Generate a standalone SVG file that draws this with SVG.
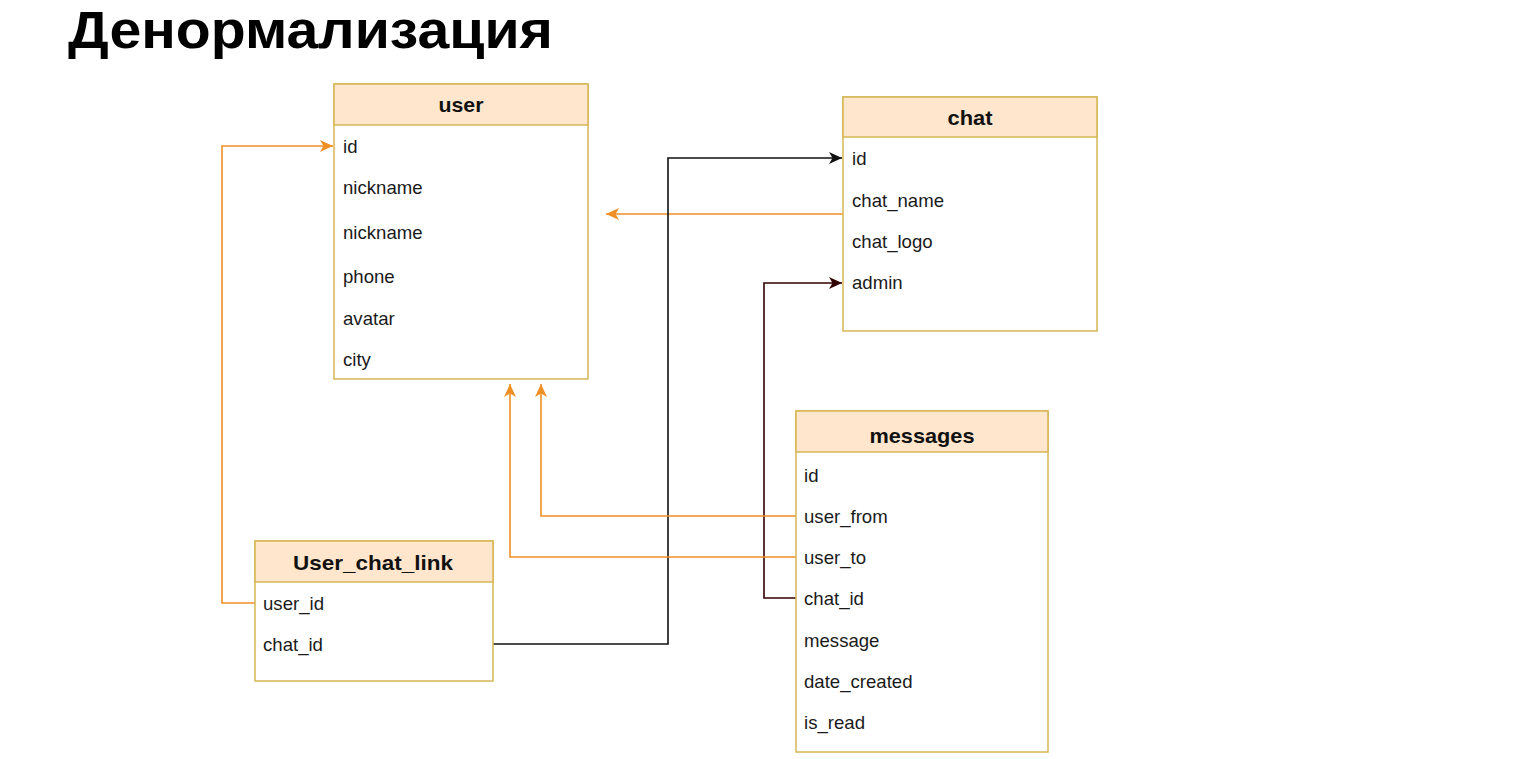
<svg xmlns="http://www.w3.org/2000/svg" width="1536" height="759" viewBox="0 0 1536 759">
<style>
.box{fill:#ffffff;stroke:#d6b656;stroke-width:1.5}
.hdr{fill:#ffe6cc;stroke:#d6b656;stroke-width:1.5}
.ht{font-family:"Liberation Sans",Arial,sans-serif;font-weight:bold;font-size:20.5px;fill:#111;text-anchor:middle}
.ft{font-family:"Liberation Sans",Arial,sans-serif;font-size:18.6px;fill:#1a1a1a}
.or{fill:none;stroke:#ef8f25;stroke-width:1.6}
.bk{fill:none;stroke:#111;stroke-width:1.6}
.br{fill:none;stroke:#330000;stroke-width:1.6}
</style>
<defs>
<marker id="aO" markerUnits="userSpaceOnUse" markerWidth="14" markerHeight="12" viewBox="0 0 14 12" refX="13" refY="6" orient="auto"><path d="M0,0 L13,6 L0,12 L3.5,6 z" fill="#ef8f25"/></marker>
<marker id="aK" markerUnits="userSpaceOnUse" markerWidth="14" markerHeight="12" viewBox="0 0 14 12" refX="13" refY="6" orient="auto"><path d="M0,0 L13,6 L0,12 L3.5,6 z" fill="#111"/></marker>
<marker id="aB" markerUnits="userSpaceOnUse" markerWidth="14" markerHeight="12" viewBox="0 0 14 12" refX="13" refY="6" orient="auto"><path d="M0,0 L13,6 L0,12 L3.5,6 z" fill="#330000"/></marker>
</defs>
<rect width="1536" height="759" fill="#ffffff"/>
<text x="68" y="48" font-family="'Liberation Sans',Arial,sans-serif" font-weight="bold" font-size="51" textLength="485" lengthAdjust="spacingAndGlyphs" fill="#000">Денормализация</text>

<g id="connectors">
<path class="or" d="M255,603 H222 V146 H333" marker-end="url(#aO)"/>
<path class="or" d="M843,214 H606" marker-end="url(#aO)"/>
<path class="bk" d="M493,644 H668 V158 H842" marker-end="url(#aK)"/>
<path class="br" d="M796,598 H764 V283 H842" marker-end="url(#aB)"/>
<path class="or" d="M796,516 H541 V384" marker-end="url(#aO)"/>
<path class="or" d="M796,557 H510 V384" marker-end="url(#aO)"/>
</g>

<g id="user">
<rect class="box" x="334" y="84" width="254" height="295"/>
<rect class="hdr" x="334" y="84" width="254" height="41"/>
<text class="ht" x="461" y="112" textLength="45" lengthAdjust="spacingAndGlyphs">user</text>
<text class="ft" x="343" y="153">id</text>
<text class="ft" x="343" y="194">nickname</text>
<text class="ft" x="343" y="239">nickname</text>
<text class="ft" x="343" y="283">phone</text>
<text class="ft" x="343" y="325">avatar</text>
<text class="ft" x="343" y="366">city</text>
</g>

<g id="chat">
<rect class="box" x="843" y="97" width="254" height="234"/>
<rect class="hdr" x="843" y="97" width="254" height="40"/>
<text class="ht" x="970" y="125" textLength="45" lengthAdjust="spacingAndGlyphs">chat</text>
<text class="ft" x="852" y="165">id</text>
<text class="ft" x="852" y="207">chat_name</text>
<text class="ft" x="852" y="248">chat_logo</text>
<text class="ft" x="852" y="289">admin</text>
</g>

<g id="messages">
<rect class="box" x="796" y="411" width="252" height="341"/>
<rect class="hdr" x="796" y="411" width="252" height="41"/>
<text class="ht" x="922" y="443" textLength="105" lengthAdjust="spacingAndGlyphs">messages</text>
<text class="ft" x="804" y="482">id</text>
<text class="ft" x="804" y="523">user_from</text>
<text class="ft" x="804" y="564">user_to</text>
<text class="ft" x="804" y="605">chat_id</text>
<text class="ft" x="804" y="647">message</text>
<text class="ft" x="804" y="688">date_created</text>
<text class="ft" x="804" y="729">is_read</text>
</g>

<g id="user_chat_link">
<rect class="box" x="255" y="541" width="238" height="140"/>
<rect class="hdr" x="255" y="541" width="238" height="41"/>
<text class="ht" x="373" y="570" textLength="160" lengthAdjust="spacingAndGlyphs">User_chat_link</text>
<text class="ft" x="263" y="610">user_id</text>
<text class="ft" x="263" y="651">chat_id</text>
</g>
</svg>
